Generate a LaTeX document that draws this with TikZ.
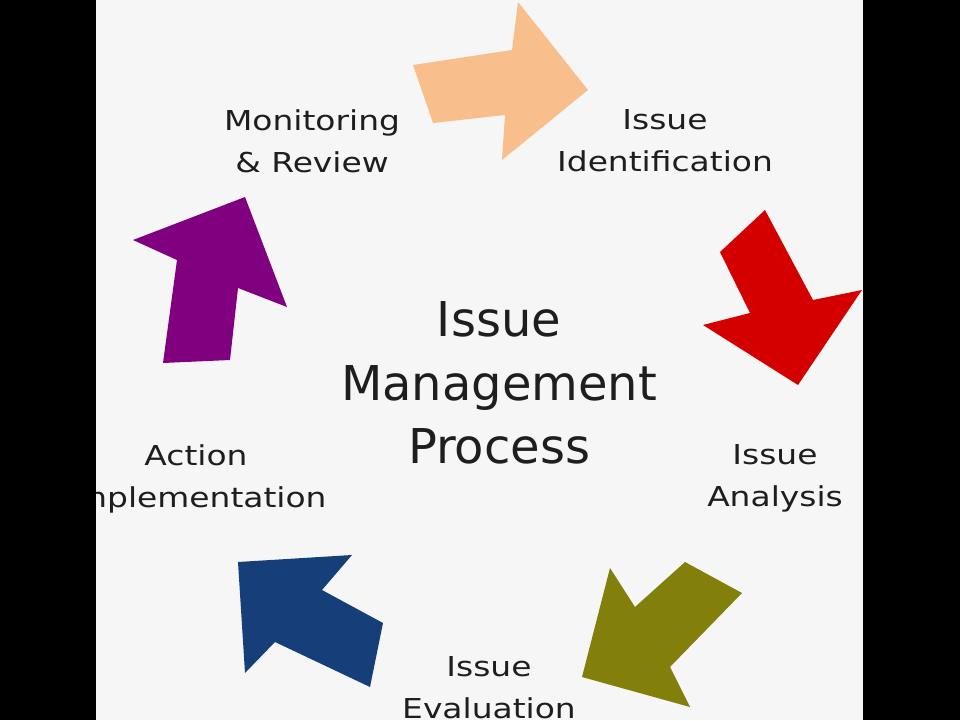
\documentclass[tikz,border=0pt]{standalone}
\usepackage{fontspec}
\setmainfont{DejaVu Sans}
\newfontfamily\stageFont[FakeStretch=1.2]{DejaVu Sans}
\usepackage{tikz}
\usetikzlibrary{shapes.geometric, arrows}
\definecolor{paper}{RGB}{246,246,246}
\definecolor{ink}{RGB}{30,30,30}
\definecolor{paleOrange}{RGB}{248,190,140}
\definecolor{strongRed}{RGB}{212,0,0}
\definecolor{olive}{RGB}{130,128,10}
\definecolor{navy}{RGB}{22,62,120}
\definecolor{plum}{RGB}{128,0,128}
\tikzstyle{stageText} = [align=center, inner sep=0pt, text=ink, font=\stageFont\fontsize{15.6}{23.9}\selectfont]
\tikzstyle{titleText} = [align=center, inner sep=0pt, text=ink, font=\fontsize{27.3}{36.3}\selectfont]
\tikzstyle{cycleArrow} = [draw=none]

\begin{document}
\begin{tikzpicture}[x=0.02cm, y=-0.02cm]
                                \useasboundingbox (0,0) rectangle (960,720);
                                \fill [paper] (96,0) rectangle (863,720);
                                \node (title) [titleText] at (499,383) {Issue\\Management\\Process};
                                \node (monitor) [stageText] at (312,141) {Monitoring\\\& Review};
                                \node (ident) [stageText] at (665,141) {Issue\\Identification};
                                \node (analysis) [stageText] at (775,478) {Issue\\Analysis};
                                \node (evaluation) [stageText] at (489,688) {Issue\\Evaluation};
                                \node (action) [stageText] at (196,479) {Action\\Implementation};
                                \fill [cycleArrow, paleOrange] (413,65) -- (512,50) -- (518,2) -- (588,90) -- (502,160) -- (505,115) -- (433,123) -- cycle;
                                \fill [cycleArrow, strongRed] (765,210) -- (813,300) -- (862,290) -- (798,385) -- (703,325) -- (750,313) -- (720,252) -- cycle;
                                \fill [cycleArrow, olive] (685,562) -- (742,593) -- (670,667) -- (690,707) -- (582,677) -- (610,568) -- (635,607) -- cycle;
                                \fill [cycleArrow, navy] (238,562) -- (352,555) -- (322,590) -- (383,623) -- (370,687) -- (275,642) -- (245,673) -- cycle;
                                \fill [cycleArrow, plum] (163,363) -- (230,360) -- (238,288) -- (287,307) -- (245,197) -- (133,240) -- (177,260) -- cycle;
                                \fill [black] (0,0) rectangle (96,720);
                                \fill [black] (863,0) rectangle (960,720);
                            \end{tikzpicture}
\end{document}
